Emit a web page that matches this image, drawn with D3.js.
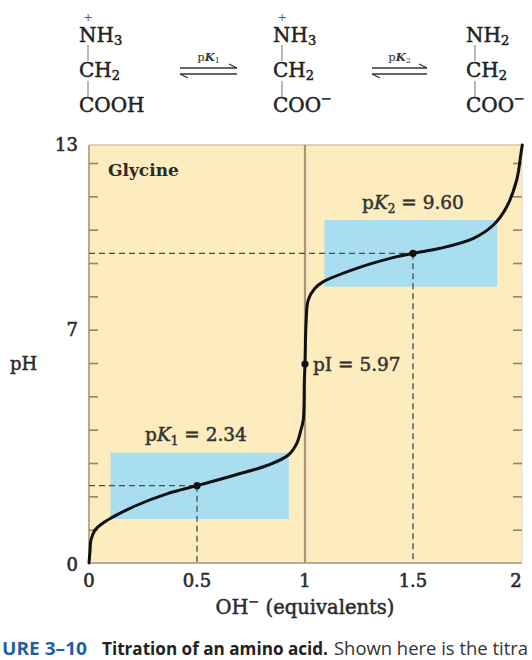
<!DOCTYPE html>
<html>
<head>
<meta charset="utf-8">
<script src="https://cdn.jsdelivr.net/npm/d3@7"></script>
<style>
  html, body { margin: 0; padding: 0; background: #fff; }
  svg { display: block; }
</style>
</head>
<body>
<svg id="chart" width="532" height="660"></svg>
<script>
// ---------- data ----------
const curveEq = [0, 0.005, 0.009, 0.028, 0.074, 0.105, 0.213, 0.367, 0.5, 0.677, 0.83, 0.923, 0.962, 0.981, 0.992, 0.997, 1.0, 1.005, 1.015, 1.046, 1.085, 1.239, 1.394, 1.5, 1.625, 1.78, 1.872, 1.934, 1.98, 2.0, 2.006];
const curvePH = [0, 0.39, 0.69, 0.99, 1.24, 1.36, 1.71, 2.09, 2.32, 2.64, 2.94, 3.24, 3.59, 3.99, 4.29, 5.49, 5.97, 7.2, 7.89, 8.24, 8.44, 8.84, 9.14, 9.29, 9.44, 9.74, 10.14, 10.69, 11.49, 12.54, 13.0];

const pointNames = ["pK1", "pI", "pK2"];
const pointEq = [0.5, 1.0, 1.5];
const pointPH = [2.32, 5.97, 9.29];
const pointValues = ["2.34", "5.97", "9.60"];

// buffering regions: [x0, x1, pH low, pH high]
const boxEqStart = [0.1, 1.09];
const boxEqEnd = [0.925, 1.89];
const boxPHLow = [1.32, 8.29];
const boxPHHigh = [3.31, 10.29];

const yTickValues = [1, 2, 3, 4, 5, 6, 7, 8, 9, 10, 11, 12];
const yTickLabels = [0, 7, 13];
const xTickValues = [0, 0.5, 1, 1.5, 2];
const xTickLabels = ["0", "0.5", "1", "1.5", "2"];

// ---------- layout ----------
const svg = d3.select("#chart");
const x = d3.scaleLinear().domain([0, 2]).range([89, 521]);
const y = d3.scaleLinear().domain([0, 12, 13]).range([563, 163, 145]);

const serif = "'DejaVu Serif', 'Liberation Serif', serif";
const txt = "#2a2a2a";
// slight outline to give a semi-bold look
function heavy(sel, w, col) { return sel.attr("stroke", col).attr("stroke-width", w).attr("paint-order", "stroke"); }

// background
svg.append("rect")
  .attr("x", x(0)).attr("y", y(13))
  .attr("width", x(2) + 1 - x(0)).attr("height", y(0) - y(13))
  .attr("fill", "#fdecbd");

// buffer boxes
svg.selectAll("rect.box").data(boxEqStart).join("rect")
  .attr("class", "box")
  .attr("x", (d, i) => x(boxEqStart[i]))
  .attr("y", (d, i) => y(boxPHHigh[i]))
  .attr("width", (d, i) => x(boxEqEnd[i]) - x(boxEqStart[i]))
  .attr("height", (d, i) => y(boxPHLow[i]) - y(boxPHHigh[i]))
  .attr("fill", "#a8def0");

// frame lines
svg.append("line").attr("x1", x(0)).attr("x2", x(2) + 1).attr("y1", y(13)).attr("y2", y(13))
  .attr("stroke", "#cfc6b4").attr("stroke-width", 1.5);
svg.append("line").attr("x1", x(2) + 1).attr("x2", x(2) + 1).attr("y1", y(13)).attr("y2", y(0))
  .attr("stroke", "#e2d8c2").attr("stroke-width", 1);
svg.append("line").attr("x1", x(0)).attr("x2", x(2) + 1).attr("y1", y(0)).attr("y2", y(0))
  .attr("stroke", "#b8ab92").attr("stroke-width", 1.8);
svg.append("line").attr("x1", x(0)).attr("x2", x(0)).attr("y1", y(13)).attr("y2", y(0))
  .attr("stroke", "#b8ab92").attr("stroke-width", 2);

// inward ticks left and right
const leftAxis = d3.axisRight(y).tickValues(yTickValues).tickSize(9).tickFormat("");
const gl = svg.append("g").attr("transform", `translate(${x(0)},0)`).call(leftAxis);
const rightAxis = d3.axisLeft(y).tickValues(yTickValues).tickSize(9).tickFormat("");
const gr = svg.append("g").attr("transform", `translate(${x(2) + 1},0)`).call(rightAxis);
[gl, gr].forEach(g => {
  g.select(".domain").remove();
  g.selectAll(".tick line").attr("stroke", "#8f8570").attr("stroke-width", 1.6);
});

// y tick labels
heavy(svg.selectAll("text.ylab").data(yTickLabels).join("text")
  .attr("class", "ylab")
  .attr("x", 78).attr("y", d => y(d) + (d === 0 ? 8 : 6))
  .attr("text-anchor", "end")
  .attr("font-family", serif).attr("font-size", 18).attr("fill", txt)
  .text(d => d), 0.6, txt);

// x tick labels
heavy(svg.selectAll("text.xlab").data(xTickValues).join("text")
  .attr("class", "xlab")
  .attr("x", (d, i) => x(d) - (i === xTickValues.length - 1 ? 5 : 0))
  .attr("y", 587)
  .attr("text-anchor", "middle")
  .attr("font-family", serif).attr("font-size", 18).attr("fill", txt)
  .text((d, i) => xTickLabels[i]), 0.6, txt);

// vertical line at 1 equivalent
svg.append("line").attr("x1", x(1)).attr("x2", x(1)).attr("y1", y(13)).attr("y2", y(0))
  .attr("stroke", "#a8977a").attr("stroke-width", 2.2);

// dashed guides
const dashG = svg.append("g").attr("stroke", "#4a4a4a").attr("stroke-width", 1.3).attr("stroke-dasharray", "6,4").attr("fill", "none");
[0, 2].forEach(i => {
  dashG.append("line").attr("x1", x(0)).attr("x2", x(pointEq[i])).attr("y1", y(pointPH[i])).attr("y2", y(pointPH[i]));
  dashG.append("line").attr("x1", x(pointEq[i])).attr("x2", x(pointEq[i])).attr("y1", y(pointPH[i])).attr("y2", y(0));
});

// titration curve
const pts = curveEq.map((d, i) => [d, curvePH[i]]);
svg.append("path")
  .datum(pts)
  .attr("fill", "none").attr("stroke", "#111").attr("stroke-width", 3).attr("stroke-linecap", "round")
  .attr("d", d3.line().x(d => x(d[0])).y(d => y(d[1])).curve(d3.curveCatmullRom.alpha(0.5)));

// points
svg.selectAll("circle.pt").data(pointEq).join("circle")
  .attr("class", "pt")
  .attr("cx", d => x(d)).attr("cy", (d, i) => y(pointPH[i]))
  .attr("r", 3.6).attr("fill", "#111");

// labels
function pkLabel(cx, baseline, sub, value) {
  const t = svg.append("text").attr("x", cx).attr("y", baseline)
    .attr("text-anchor", "middle").attr("font-family", serif).attr("font-size", 18.5).attr("fill", "#333");
  heavy(t, 0.5, "#333");
  t.append("tspan").text("p");
  t.append("tspan").attr("font-style", "italic").text("K");
  t.append("tspan").attr("font-size", 12).attr("dy", 4).text(sub);
  t.append("tspan").attr("dy", -4).text(" = " + value);
}
pkLabel(x(pointEq[0]) - 1, 441, "1", pointValues[0]);
pkLabel(x(pointEq[2]), 209, "2", pointValues[2]);

heavy(svg.append("text").attr("x", x(pointEq[1]) + 8).attr("y", y(pointPH[1]) + 7)
  .attr("font-family", serif).attr("font-size", 18.5).attr("fill", "#333")
  .text("pI = " + pointValues[1]), 0.5, "#333");

svg.append("text").attr("x", 108).attr("y", 176)
  .attr("font-family", serif).attr("font-size", 17).attr("font-weight", "bold").attr("fill", "#2a2a2a")
  .text("Glycine");

// axis titles
const xt = svg.append("text").attr("x", x(1)).attr("y", 614).attr("text-anchor", "middle")
  .attr("font-family", serif).attr("font-size", 19.5).attr("fill", txt);
heavy(xt, 0.5, txt);
xt.append("tspan").text("OH");
xt.append("tspan").attr("font-size", 13).attr("dy", -8).text("−");
xt.append("tspan").attr("dy", 8).text(" (equivalents)");

heavy(svg.append("text").attr("x", 10).attr("y", 370)
  .attr("font-family", serif).attr("font-size", 18).attr("fill", txt).text("pH"), 0.5, txt);

// ---------- chemical equilibrium ----------
const chemFont = 20;
function structure(x0, top, mid, bot, charged, anion) {
  const g = svg.append("g").attr("font-family", serif).attr("font-size", chemFont).attr("fill", "#222");
  const t1 = heavy(g.append("text").attr("x", x0).attr("y", 42), 0.5, "#222");
  t1.append("tspan").text(top[0]);
  t1.append("tspan").attr("font-size", 13).attr("dy", 3).text(top[1]);
  if (charged) {
    g.append("text").attr("x", x0 + 9).attr("y", 21).attr("text-anchor", "middle").attr("font-size", 11).attr("fill", "#555").text("+");
  }
  const t2 = heavy(g.append("text").attr("x", x0).attr("y", 77), 0.5, "#222");
  t2.append("tspan").text(mid[0]);
  t2.append("tspan").attr("font-size", 13).attr("dy", 3).text(mid[1]);
  const t3 = heavy(g.append("text").attr("x", x0).attr("y", 112), 0.5, "#222");
  t3.append("tspan").text(bot);
  if (anion) t3.append("tspan").attr("font-size", 13).attr("dy", -9).text("−");
  g.append("line").attr("x1", x0 + 9).attr("x2", x0 + 9).attr("y1", 45).attr("y2", 61).attr("stroke", "#888").attr("stroke-width", 1.2);
  g.append("line").attr("x1", x0 + 9).attr("x2", x0 + 9).attr("y1", 81).attr("y2", 97).attr("stroke", "#888").attr("stroke-width", 1.2);
}
structure(79, ["NH", "3"], ["CH", "2"], "COOH", true, false);
structure(273, ["NH", "3"], ["CH", "2"], "COO", true, true);
structure(466, ["NH", "2"], ["CH", "2"], "COO", false, true);

function equilibrium(x1, x2, sub) {
  const g = svg.append("g").attr("stroke", "#333").attr("stroke-width", 1.3).attr("fill", "none");
  g.append("line").attr("x1", x1).attr("x2", x2).attr("y1", 68).attr("y2", 68);
  g.append("line").attr("x1", x2).attr("x2", x2 - 8).attr("y1", 68).attr("y2", 64);
  g.append("line").attr("x1", x1).attr("x2", x2).attr("y1", 74).attr("y2", 74);
  g.append("line").attr("x1", x1).attr("x2", x1 + 8).attr("y1", 74).attr("y2", 78);
  const t = svg.append("text").attr("x", (x1 + x2) / 2).attr("y", 61).attr("text-anchor", "middle")
    .attr("font-family", serif).attr("font-size", 11.5).attr("fill", "#333");
  t.append("tspan").text("p");
  t.append("tspan").attr("font-style", "italic").attr("font-weight", "bold").text("K");
  t.append("tspan").attr("font-size", 8).attr("dy", 2).text(sub);
}
equilibrium(180, 237, "1");
equilibrium(372, 427, "2");

// ---------- caption (as visible in the cropped reference) ----------
const sans = "'Open Sans', 'Noto Sans', sans-serif";
svg.append("text").attr("x", 2).attr("y", 655)
  .attr("font-family", sans).attr("font-size", 18.5).attr("font-weight", "bold").attr("fill", "#1f5fa6")
  .attr("textLength", 85).attr("lengthAdjust", "spacingAndGlyphs")
  .text("URE 3–10");
svg.append("text").attr("x", 102).attr("y", 655)
  .attr("font-family", sans).attr("font-size", 18.5).attr("font-weight", "bold").attr("fill", "#222")
  .attr("textLength", 226).attr("lengthAdjust", "spacingAndGlyphs")
  .text("Titration of an amino acid.");
svg.append("text").attr("x", 334).attr("y", 655)
  .attr("font-family", sans).attr("font-size", 18.5).attr("fill", "#333")
  .attr("textLength", 194).attr("lengthAdjust", "spacingAndGlyphs")
  .text("Shown here is the titra");
</script>
</body>
</html>
